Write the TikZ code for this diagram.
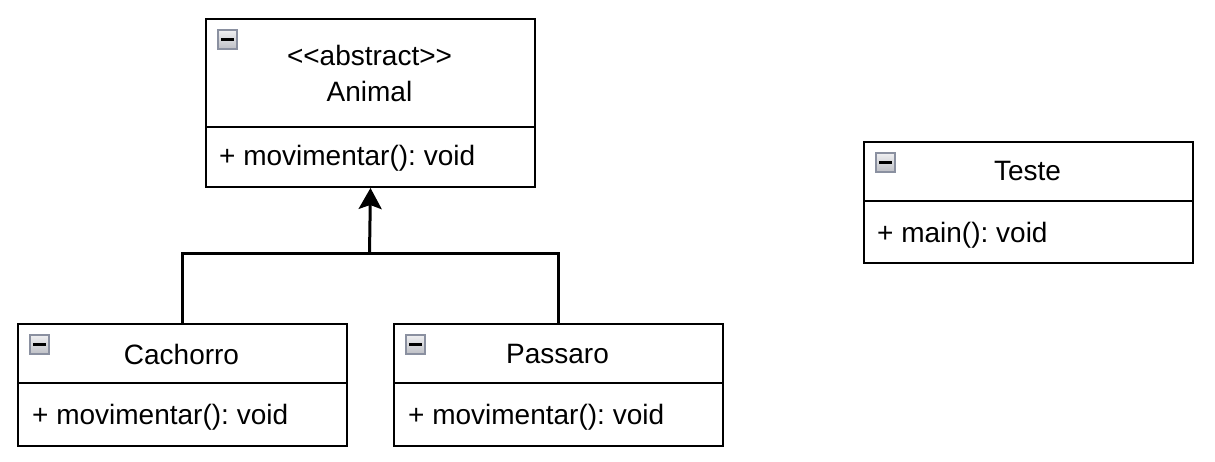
\documentclass[tikz,border=0pt]{standalone}
\usepackage{fontspec}
\setmainfont{Liberation Sans}[Ligatures=TeXOff]
\frenchspacing
\usetikzlibrary{arrows.meta}
\begin{document}
\begin{tikzpicture}[x=1pt,y=-1pt,
  box/.style={draw=black,line width=2pt,rectangle,anchor=north west,inner sep=0pt,minimum width=329pt},
  txt/.style={font=\fontsize{28}{33}\selectfont,inner sep=0pt},
  lab/.style={txt,anchor=west},
  divline/.style={line width=2pt},
  conn/.style={line width=3pt},
  icon/.style={draw={rgb,255:red,138;green,144;blue,160},line width=1.5pt,top color={rgb,255:red,240;green,240;blue,242},bottom color={rgb,255:red,190;green,192;blue,198},rectangle,minimum size=19pt,inner sep=0pt,anchor=north west}
]
\useasboundingbox (0,0) rectangle (1215,461);
\fill[white] (0,0) rectangle (1215,461);

% Animal
\node[box,minimum height=168pt] (animal) at (205,18) {};
\draw[divline] (205,127) coordinate (adl) -- (534,127) coordinate (adr);
\node[icon] (ai) at (217,29) {};
\draw[line width=2.5pt] ([xshift=4pt]ai.west) -- ([xshift=-4pt]ai.east);
\node[txt] (aster) at (369.5,55) {<\kern0pt<abstract>\kern0pt>};
\node[txt] (aname) at (369.5,91) {Animal};
\node[lab] (am) at (219,158) {+ movimentar(): void};

% Teste
\node[box,minimum height=121pt] (teste) at (863,141) {};
\draw[divline] (863,201) coordinate (tdl) -- (1192,201) coordinate (tdr);
\node[icon] (ti) at (875,152) {};
\draw[line width=2.5pt] ([xshift=4pt]ti.west) -- ([xshift=-4pt]ti.east);
\node[txt] (tname) at (1027.5,171) {Teste};
\node[lab] (tm) at (877,235) {+ main(): void};

% Cachorro
\node[box,minimum height=122pt] (cach) at (17,323) {};
\draw[divline] (17,383) coordinate (cdl) -- (346,383) coordinate (cdr);
\node[icon] (ci) at (29,334) {};
\draw[line width=2.5pt] ([xshift=4pt]ci.west) -- ([xshift=-4pt]ci.east);
\node[txt] (cname) at (181.5,354) {Cachorro};
\node[lab] (cm) at (32,417) {+ movimentar(): void};

% Passaro
\node[box,minimum height=122pt] (pass) at (393,323) {};
\draw[divline] (393,383) coordinate (pdl) -- (722,383) coordinate (pdr);
\node[icon] (pi) at (405,334) {};
\draw[line width=2.5pt] ([xshift=4pt]pi.west) -- ([xshift=-4pt]pi.east);
\node[txt] (pname) at (557.5,354) {Passaro};
\node[lab] (pm) at (408,417) {+ movimentar(): void};

% connectors
\coordinate (junc) at (369.5,253);
\draw[conn,line cap=butt] (cach.north) |- (junc) -| (pass.north);
\draw[conn,-{Stealth[length=21pt,width=23pt,inset=4pt]}] (junc) -- (animal.south);
\end{tikzpicture}
\end{document}
